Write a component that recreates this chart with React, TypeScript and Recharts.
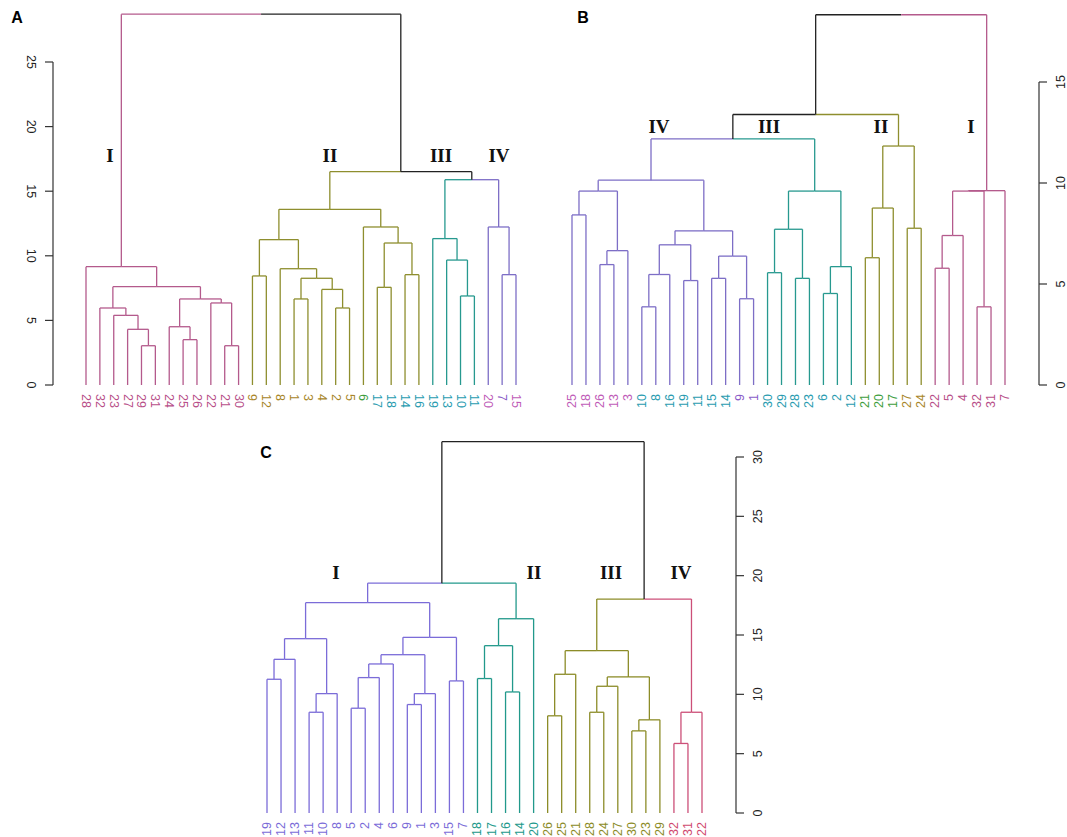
import React from "react";
import { ComposedChart, XAxis, YAxis, ReferenceLine } from "recharts";

// merges follow hclust: negative = leaf label, positive = earlier merge (1-based)
type Merge = [number, number, number];

// ---- panel A ----
const aLeaves = [28, 32, 23, 27, 29, 31, 24, 25, 26, 22, 21, 30, 9, 12, 8, 1, 3, 4, 2, 5, 6, 17, 18, 14, 16, 19, 13, 10, 11, 20, 7, 15];
const aMerges: Merge[] = [
  [-29, -31, 3.04], [-27, 1, 4.31], [-23, 2, 5.39], [-32, 3, 5.96],
  [-25, -26, 3.51], [-24, 5, 4.51], [-21, -30, 3.04], [-22, 7, 6.35],
  [6, 8, 6.66], [4, 9, 7.61], [-28, 10, 9.16],
  [-9, -12, 8.44], [-1, -3, 6.66], [-2, -5, 5.96], [-4, 14, 7.4],
  [13, 15, 8.26], [-8, 16, 9.0], [12, 17, 11.25], [-17, -18, 7.56],
  [-14, -16, 8.54], [19, 20, 10.99], [-6, 21, 12.23], [18, 22, 13.6],
  [-10, -11, 6.89], [-13, 24, 9.67], [-19, 25, 11.33],
  [-7, -15, 8.54], [-20, 27, 12.23], [26, 28, 15.89], [23, 29, 16.51],
  [11, 30, 28.7],
];
const aClusters = [
  [28, 32, 23, 27, 29, 31, 24, 25, 26, 22, 21, 30],
  [9, 12, 8, 1, 3, 4, 2, 5, 6, 17, 18, 14, 16],
  [19, 13, 10, 11],
  [20, 7, 15],
];
const aClusterNames = ["I", "II", "III", "IV"];
const aLabelGroup = [0, 0, 0, 0, 0, 0, 0, 0, 0, 0, 0, 0, 1, 1, 1, 1, 1, 1, 1, 1, 2, 3, 3, 3, 3, 3, 3, 3, 3, 4, 5, 4];
const aTicks = [0, 5, 10, 15, 20, 25];

// ---- panel B ----
const bLeaves = [25, 18, 26, 13, 3, 10, 8, 16, 19, 11, 15, 14, 9, 1, 30, 29, 28, 23, 6, 2, 12, 21, 20, 17, 27, 24, 22, 5, 4, 32, 31, 7];
const bMerges: Merge[] = [
  [-25, -18, 8.42], [-26, -13, 5.96], [2, -3, 6.65], [1, 3, 9.6],
  [-10, -8, 3.87], [5, -16, 5.47], [-19, -11, 5.17], [6, 7, 6.94],
  [-15, -14, 5.28], [-9, -1, 4.27], [9, 10, 6.38], [8, 11, 7.63],
  [4, 12, 10.14],
  [-30, -29, 5.56], [-28, -23, 5.28], [14, 15, 7.71], [-6, -2, 4.53],
  [17, -12, 5.86], [16, 18, 9.6], [13, 19, 12.18],
  [-21, -20, 6.3], [21, -17, 8.76], [-27, -24, 7.76], [22, 23, 11.83],
  [20, 24, 13.39],
  [-22, -5, 5.78], [26, -4, 7.4], [-32, -31, 3.87], [27, 28, 9.6],
  [29, -7, 9.62], [25, 30, 18.33],
];
const bClusters = [
  [22, 5, 4, 32, 31, 7],
  [21, 20, 17, 27, 24],
  [30, 29, 28, 23, 6, 2, 12],
  [25, 18, 26, 13, 3, 10, 8, 16, 19, 11, 15, 14, 9, 1],
];
const bClusterNames = ["I", "II", "III", "IV"];
const bLabelGroup = [4, 4, 4, 4, 4, 3, 3, 3, 3, 3, 3, 3, 5, 5, 3, 3, 3, 3, 3, 3, 3, 2, 2, 2, 1, 1, 0, 0, 0, 0, 0, 0];
const bTicks = [0, 5, 10, 15];

// ---- panel C ----
const cLeaves = [19, 12, 13, 11, 10, 8, 5, 2, 4, 6, 9, 1, 3, 15, 7, 18, 17, 16, 14, 20, 26, 25, 21, 28, 24, 27, 30, 23, 29, 32, 31, 22];
const cMerges: Merge[] = [
  [-19, -12, 11.27], [1, -13, 12.95], [-11, -10, 8.49], [3, -8, 10.06],
  [2, 4, 14.69], [-5, -2, 8.83], [6, -4, 11.41], [7, -6, 12.56],
  [-9, -1, 9.14], [9, -3, 10.06], [8, 10, 13.34], [-15, -7, 11.13],
  [11, 12, 14.8], [5, 13, 17.72],
  [-18, -17, 11.33], [-16, -14, 10.2], [15, 16, 14.1], [17, -20, 16.37],
  [14, 18, 19.37],
  [-26, -25, 8.19], [20, -21, 11.69], [-28, -24, 8.49], [22, -27, 10.68],
  [-30, -23, 6.92], [24, -29, 7.85], [23, 25, 11.47], [21, 26, 13.68],
  [-32, -31, 5.86], [28, -22, 8.49], [27, 29, 18.03],
  [19, 30, 31.29],
];
const cClusters = [
  [19, 12, 13, 11, 10, 8, 5, 2, 4, 6, 9, 1, 3, 15, 7],
  [18, 17, 16, 14, 20],
  [26, 25, 21, 28, 24, 27, 30, 23, 29],
  [32, 31, 22],
];
const cClusterNames = ["I", "II", "III", "IV"];
const cLabelGroup = [0, 0, 0, 0, 0, 0, 0, 0, 0, 0, 0, 0, 0, 0, 0, 1, 1, 1, 1, 1, 2, 2, 2, 2, 2, 2, 2, 2, 2, 3, 3, 3];
const cTicks = [0, 5, 10, 15, 20, 25, 30];

// colours
const PINK = "#b45a8c";
const OLIVE = "#8e8e2e";
const TEAL = "#27998f";
const PURPLE = "#7d6ec6";
const aBranchColors = [PINK, OLIVE, TEAL, PURPLE];
const bBranchColors = [PINK, OLIVE, TEAL, PURPLE];
const cBranchColors = ["#7b6cd8", "#22998b", "#8c8c28", "#cc4f78"];
const abLabelPalette = ["#b8508a", "#a8862a", "#3e9e3e", "#2a9cb0", "#c05cb8", "#8a5cc8"];
const cLabelPalette = ["#7b6cd8", "#22998b", "#8c8c28", "#d04a70"];
const MIXED = "#222222";

const W = 1067;
const H = 837;

function buildSegments(leaves: number[], merges: Merge[], clusters: number[][], colors: string[]) {
  const pos = new Map<number, number>();
  leaves.forEach((l, i) => pos.set(l, i + 1));
  const clusterOf = new Map<number, number>();
  clusters.forEach((c, ci) => c.forEach((l) => clusterOf.set(l, ci)));
  const nodes: { x: number; h: number; cl: number }[] = [];
  const get = (ref: number) =>
    ref < 0 ? { x: pos.get(-ref)!, h: 0, cl: clusterOf.get(-ref)! } : nodes[ref - 1];
  const segs: { x1: number; y1: number; x2: number; y2: number; color: string }[] = [];
  merges.forEach(([l, r, h]) => {
    const a = get(l);
    const b = get(r);
    const x = (a.x + b.x) / 2;
    [a, b].forEach((c) => {
      const col = c.cl >= 0 ? colors[c.cl] : MIXED;
      segs.push({ x1: c.x, y1: c.h, x2: c.x, y2: h, color: col });
      segs.push({ x1: c.x, y1: h, x2: x, y2: h, color: col });
    });
    nodes.push({ x, h, cl: a.cl === b.cl ? a.cl : -1 });
  });
  return segs;
}

interface PanelProps {
  leaves: number[];
  merges: Merge[];
  clusters: number[][];
  branchColors: string[];
  labelGroup: number[];
  labelPalette: string[];
  ticks: number[];
  side: "left" | "right";
  leaf1Px: number;
  leafNPx: number;
  axisPx: number;
  y0Px: number;
  yRefPx: number;
  yMax: number;
  labelRotate: number;
}

function Dendrogram(p: PanelProps) {
  const n = p.leaves.length;
  const s = (p.leafNPx - p.leaf1Px) / (n - 1);
  const yRefVal = p.ticks[p.ticks.length - 1];
  const unit = (p.y0Px - p.yRefPx) / yRefVal;
  const yW = 40;
  const xH = 30;
  let xMin: number, xMax: number, plotLeft: number, plotRight: number;
  if (p.side === "left") {
    xMin = 1 - (p.leaf1Px - p.axisPx) / s;
    xMax = n + 0.6;
    plotLeft = p.axisPx;
    plotRight = p.leafNPx + 0.6 * s;
  } else {
    xMin = 0.4;
    xMax = n + (p.axisPx - p.leafNPx) / s;
    plotLeft = p.leaf1Px - 0.6 * s;
    plotRight = p.axisPx;
  }
  const plotTop = p.y0Px - p.yMax * unit;
  const margin = {
    top: plotTop,
    bottom: H - p.y0Px - xH,
    left: plotLeft - (p.side === "left" ? yW : 0),
    right: W - plotRight - (p.side === "right" ? yW : 0),
  };
  const segs = buildSegments(p.leaves, p.merges, p.clusters, p.branchColors);
  const data = p.leaves.map((_, i) => ({ x: i + 1, y: 0 }));
  const leafTicks = p.leaves.map((_, i) => i + 1);
  const axisX = p.side === "left" ? xMin : xMax;

  const leafTick = (t: any) => {
    const i = Math.round(t.payload.value) - 1;
    const ty = p.y0Px + 9;
    return (
      <text
        x={t.x}
        y={ty}
        transform={`rotate(${p.labelRotate}, ${t.x}, ${ty})`}
        textAnchor={p.labelRotate > 0 ? "start" : "end"}
        dominantBaseline="central"
        fill={p.labelPalette[p.labelGroup[i]]}
        fontSize={12.5}
        fontFamily="'Liberation Sans', Arial, sans-serif"
      >
        {p.leaves[i]}
      </text>
    );
  };

  const axisTick = (t: any) => {
    const cx = p.side === "left" ? t.x - 12 : t.x + 12;
    return (
      <text
        x={cx}
        y={t.y}
        transform={`rotate(${p.side === "left" ? 90 : -90}, ${cx}, ${t.y})`}
        textAnchor="middle"
        dominantBaseline="central"
        fill="#222"
        fontSize={12.5}
        fontFamily="'Liberation Sans', Arial, sans-serif"
      >
        {t.payload.value}
      </text>
    );
  };

  return (
    <ComposedChart
      width={W}
      height={H}
      data={data}
      margin={margin}
      style={{ position: "absolute", left: 0, top: 0 }}
    >
      <XAxis
        type="number"
        dataKey="x"
        domain={[xMin, xMax]}
        ticks={leafTicks}
        interval={0}
        allowDataOverflow
        axisLine={false}
        tickLine={false}
        height={xH}
        tick={leafTick}
      />
      <YAxis
        type="number"
        domain={[0, p.yMax]}
        ticks={p.ticks}
        allowDataOverflow
        orientation={p.side}
        width={yW}
        axisLine={false}
        tickSize={8}
        tickLine={{ stroke: "#333", strokeWidth: 1.2 }}
        tick={axisTick}
      />
      <ReferenceLine
        segment={[{ x: axisX, y: 0 }, { x: axisX, y: yRefVal }]}
        stroke="#333"
        strokeWidth={1.2}
        ifOverflow="visible"
      />
      {segs.map((sg, i) => (
        <ReferenceLine
          key={i}
          segment={[{ x: sg.x1, y: sg.y1 }, { x: sg.x2, y: sg.y2 }]}
          stroke={sg.color}
          strokeWidth={1.3}
          ifOverflow="visible"
        />
      ))}
    </ComposedChart>
  );
}

const romanStyle = {
  fontFamily: "'Liberation Serif', 'Times New Roman', serif",
  fontWeight: 700,
  fontSize: 19,
  fill: "#111",
};
const letterStyle = {
  fontFamily: "'Liberation Sans', Arial, sans-serif",
  fontWeight: 700,
  fontSize: 16,
  fill: "#000",
};

const aNamePos = [[110, 155], [330, 155], [441, 155], [499, 155]];
const bNamePos = [[971, 126], [881, 126], [769, 126], [659, 126]];
const cNamePos = [[336, 572], [534, 572], [611, 572], [681, 572]];

export default function App() {
  return (
    <div style={{ position: "absolute", left: 0, top: 0, width: W, height: H, background: "#fff" }}>
      <Dendrogram
        leaves={aLeaves}
        merges={aMerges}
        clusters={aClusters}
        branchColors={aBranchColors}
        labelGroup={aLabelGroup}
        labelPalette={abLabelPalette}
        ticks={aTicks}
        side="left"
        leaf1Px={86}
        leafNPx={516}
        axisPx={53}
        y0Px={385}
        yRefPx={62}
        yMax={29.5}
        labelRotate={90}
      />
      <Dendrogram
        leaves={bLeaves}
        merges={bMerges}
        clusters={bClusters}
        branchColors={bBranchColors}
        labelGroup={bLabelGroup}
        labelPalette={abLabelPalette}
        ticks={bTicks}
        side="right"
        leaf1Px={572}
        leafNPx={1005}
        axisPx={1039}
        y0Px={385}
        yRefPx={82}
        yMax={18.8}
        labelRotate={-90}
      />
      <Dendrogram
        leaves={cLeaves}
        merges={cMerges}
        clusters={cClusters}
        branchColors={cBranchColors}
        labelGroup={cLabelGroup}
        labelPalette={cLabelPalette}
        ticks={cTicks}
        side="right"
        leaf1Px={267}
        leafNPx={702}
        axisPx={736}
        y0Px={813}
        yRefPx={457}
        yMax={32}
        labelRotate={-90}
      />
      <svg width={W} height={H} style={{ position: "absolute", left: 0, top: 0, pointerEvents: "none" }}>
        <text x={17} y={23} textAnchor="middle" style={letterStyle}>A</text>
        <text x={583} y={23} textAnchor="middle" style={letterStyle}>B</text>
        <text x={266} y={458} textAnchor="middle" style={letterStyle}>C</text>
        {aClusterNames.map((nm, i) => (
          <text key={"a" + i} x={aNamePos[i][0]} y={aNamePos[i][1]} textAnchor="middle" dominantBaseline="central" style={romanStyle}>{nm}</text>
        ))}
        {bClusterNames.map((nm, i) => (
          <text key={"b" + i} x={bNamePos[i][0]} y={bNamePos[i][1]} textAnchor="middle" dominantBaseline="central" style={romanStyle}>{nm}</text>
        ))}
        {cClusterNames.map((nm, i) => (
          <text key={"c" + i} x={cNamePos[i][0]} y={cNamePos[i][1]} textAnchor="middle" dominantBaseline="central" style={romanStyle}>{nm}</text>
        ))}
      </svg>
    </div>
  );
}
